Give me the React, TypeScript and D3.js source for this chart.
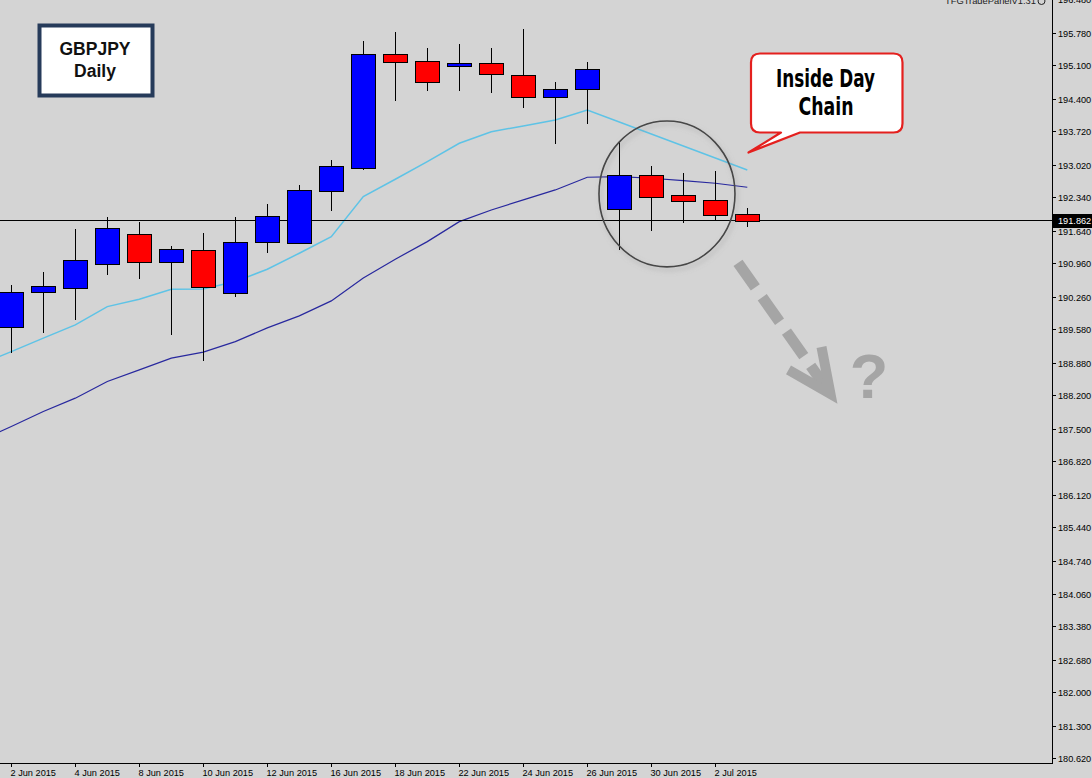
import React from 'react';
import * as d3 from 'd3';

// ---- Data ----
const candleDates = [
  '2 Jun 2015', '3 Jun 2015', '4 Jun 2015', '5 Jun 2015', '8 Jun 2015', '9 Jun 2015',
  '10 Jun 2015', '11 Jun 2015', '12 Jun 2015', '15 Jun 2015', '16 Jun 2015', '17 Jun 2015',
  '18 Jun 2015', '19 Jun 2015', '22 Jun 2015', '23 Jun 2015', '24 Jun 2015', '25 Jun 2015',
  '26 Jun 2015', '29 Jun 2015', '30 Jun 2015', '1 Jul 2015', '2 Jul 2015', '3 Jul 2015',
];
const opens = [189.635, 190.378, 190.449, 190.95, 191.577, 191.004, 191.249, 190.357, 191.422, 191.401, 192.487, 192.955, 195.342, 195.189, 195.097, 195.147, 194.897, 194.437, 194.604, 192.099, 192.809, 192.397, 192.293, 191.994];
const highs = [190.518, 190.783, 191.681, 191.944, 191.84, 191.332, 191.61, 191.944, 192.203, 192.606, 193.128, 195.619, 195.795, 195.461, 195.55, 195.461, 195.864, 194.751, 195.181, 193.498, 193.009, 192.863, 192.905, 192.12];
const lows = [189.092, 189.522, 189.787, 190.727, 190.637, 189.474, 188.937, 190.274, 191.18, 191.39, 192.063, 192.919, 194.36, 194.569, 194.569, 194.521, 194.22, 193.456, 193.874, 191.249, 191.652, 191.819, 191.875, 191.735];
const closes = [190.366, 190.497, 191.04, 191.708, 191.004, 191.263, 190.47, 191.416, 191.959, 192.502, 193.003, 195.342, 195.181, 194.751, 195.147, 194.918, 194.45, 194.604, 195.022, 192.809, 192.362, 192.278, 191.986, 191.862];

// moving averages, first value belongs to the candle before 2 Jun (index -1)
const maFast = [188.85, 189.125, 189.405, 189.683, 190.065, 190.219, 190.428, 190.434, 190.587, 190.846, 191.18, 191.527, 192.362, 192.725, 193.093, 193.477, 193.719, 193.838, 193.963, 194.172, 193.922, 193.671, 193.42, 193.17, 192.919];
const maSlow = [187.26, 187.559, 187.872, 188.152, 188.499, 188.743, 188.987, 189.113, 189.334, 189.62, 189.871, 190.184, 190.664, 191.055, 191.422, 191.84, 192.084, 192.293, 192.502, 192.767, 192.779, 192.746, 192.696, 192.642, 192.558];

const priceTicks = [196.48, 195.78, 195.1, 194.4, 193.72, 193.02, 192.34, 191.64, 190.96, 190.26, 189.58, 188.88, 188.2, 187.5, 186.82, 186.12, 185.44, 184.74, 184.06, 183.38, 182.68, 182.0, 181.3, 180.62];
const dateTickIndex = [-2, 0, 2, 4, 6, 8, 10, 12, 14, 16, 18, 20, 22];
const dateTickLabels = ['29 May 2015', '2 Jun 2015', '4 Jun 2015', '8 Jun 2015', '10 Jun 2015', '12 Jun 2015', '16 Jun 2015', '18 Jun 2015', '22 Jun 2015', '24 Jun 2015', '26 Jun 2015', '30 Jun 2015', '2 Jul 2015'];

const currentPrice = 191.862;

// annotation anchors in (candle index, price) space
const circleCenter = { i: 20.49, p: 192.418 };
const circleRadius = { i: 2.125, p: 1.524 };
const arrowStart = { i: 22.71, p: 190.977 };
const arrowTip = { i: 25.6, p: 188.24 };

// ---- Layout ----
const W = 1092;
const H = 778;
const plotRight = 1052;
const plotBottom = 763;

const BG = '#d4d4d4';
const BULL = '#0000ff';
const BEAR = '#ff0000';
const FAST = '#5ec3e6';
const SLOW = '#28289e';
const ANN = '#a5a5a5';
const AXIS_FONT = '"Liberation Sans", Arial, sans-serif';

export default function App() {
  const x = d3.scaleLinear().domain([0, 23]).range([11.3, 747.3]);
  const y = d3.scaleLinear().domain([180.53, 196.47]).range([plotBottom, 0]);

  const maLine = d3
    .line<number>()
    .x((_, k) => x(k - 1))
    .y((v) => y(v));

  const px = (v: number) => Math.floor(v) + 0.5;

  const cx = x(circleCenter.i);
  const cy = y(circleCenter.p);
  const rx = x(circleCenter.i + circleRadius.i) - cx;
  const ry = cy - y(circleCenter.p + circleRadius.p);

  const sx = x(arrowStart.i);
  const sy = y(arrowStart.p);
  const tx = x(arrowTip.i);
  const ty = y(arrowTip.p);

  // callout shape
  const cb = { l: 751, t: 53.5, r: 902.5, b: 132.5, rad: 9 };
  const tailL = 781;
  const tailR = 800;
  const tip = { x: 748.5, y: 152.5 };
  const calloutPath = [
    `M${cb.l + cb.rad},${cb.t}`,
    `L${cb.r - cb.rad},${cb.t}`,
    `Q${cb.r},${cb.t} ${cb.r},${cb.t + cb.rad}`,
    `L${cb.r},${cb.b - cb.rad}`,
    `Q${cb.r},${cb.b} ${cb.r - cb.rad},${cb.b}`,
    `L${tailR},${cb.b}`,
    `L${tip.x},${tip.y}`,
    `L${tailL},${cb.b}`,
    `L${cb.l + cb.rad},${cb.b}`,
    `Q${cb.l},${cb.b} ${cb.l},${cb.b - cb.rad}`,
    `L${cb.l},${cb.t + cb.rad}`,
    `Q${cb.l},${cb.t} ${cb.l + cb.rad},${cb.t}`,
    'Z',
  ].join(' ');

  return (
    <svg
      width={W}
      height={H}
      style={{ position: 'absolute', left: 0, top: 0, display: 'block' }}
      xmlns="http://www.w3.org/2000/svg"
    >
      <defs>
        <clipPath id="plot">
          <rect x={0} y={0} width={plotRight} height={plotBottom} />
        </clipPath>
        <filter id="shadow" x="-20%" y="-20%" width="150%" height="150%">
          <feDropShadow dx="2" dy="3" stdDeviation="2.5" floodColor="#8a8a8a" floodOpacity="0.55" />
        </filter>
      </defs>
      <rect x={0} y={0} width={W} height={H} fill={BG} />

      <g clipPath="url(#plot)">
        {/* moving averages */}
        <path d={maLine(maSlow) || ''} fill="none" stroke={SLOW} strokeWidth={1.2} />
        <path d={maLine(maFast) || ''} fill="none" stroke={FAST} strokeWidth={1.5} />

        {/* current price line */}
        <line x1={0} x2={plotRight} y1={px(y(currentPrice))} y2={px(y(currentPrice))} stroke="#000" strokeWidth={1} />

        {/* candles */}
        {opens.map((o, i) => {
          const c = closes[i];
          const bull = c >= o;
          const xc = px(x(i));
          const top = Math.round(y(Math.max(o, c)));
          const bot = Math.round(y(Math.min(o, c)));
          return (
            <g key={candleDates[i]} shapeRendering="crispEdges">
              <line x1={xc} x2={xc} y1={y(highs[i])} y2={y(lows[i])} stroke="#000" strokeWidth={1} />
              <rect
                x={xc - 12}
                y={top + 0.5}
                width={24}
                height={Math.max(bot - top, 2)}
                fill={bull ? BULL : BEAR}
                stroke="#000"
                strokeWidth={1}
              />
            </g>
          );
        })}

        {/* circle annotation */}
        <ellipse cx={cx} cy={cy} rx={rx} ry={ry} fill="none" stroke="#464646" strokeWidth={1.6} filter="url(#shadow)" />

        {/* dashed arrow */}
        <line x1={sx} y1={sy} x2={tx} y2={ty} stroke={ANN} strokeWidth={11} strokeDasharray="30 12" />
        <polyline
          points={`${tx - 9},${ty - 47} ${tx},${ty} ${tx - 42},${ty - 24}`}
          fill="none"
          stroke={ANN}
          strokeWidth={10}
          strokeLinejoin="miter"
        />
        <text x={869} y={398} textAnchor="middle" fontFamily={AXIS_FONT} fontWeight="bold" fontSize={63} fill={ANN}>
          ?
        </text>

        {/* callout */}
        <path d={calloutPath} fill="#fff" stroke="#e4201e" strokeWidth={2.2} strokeLinejoin="round" />
        <text
          x={825.5}
          y={87}
          textAnchor="middle"
          fontFamily='"DejaVu Sans Condensed", "DejaVu Sans", sans-serif'
          fontWeight="bold"
          fontSize={24}
          textLength={99}
          lengthAdjust="spacingAndGlyphs"
          fill="#000"
        >
          Inside Day
        </text>
        <text
          x={826}
          y={115}
          textAnchor="middle"
          fontFamily='"DejaVu Sans Condensed", "DejaVu Sans", sans-serif'
          fontWeight="bold"
          fontSize={24}
          textLength={55}
          lengthAdjust="spacingAndGlyphs"
          fill="#000"
        >
          Chain
        </text>

        {/* symbol label box */}
        <rect x={39.5} y={25.5} width={113} height={70} fill="#fff" stroke="#263b5a" strokeWidth={4} />
        <text x={95} y={55.3} textAnchor="middle" fontFamily={AXIS_FONT} fontWeight="bold" fontSize={17.5} fill="#111">
          GBPJPY
        </text>
        <text x={95} y={77.3} textAnchor="middle" fontFamily={AXIS_FONT} fontWeight="bold" fontSize={17.5} fill="#111">
          Daily
        </text>
      </g>

      {/* axes */}
      <line x1={plotRight + 0.5} x2={plotRight + 0.5} y1={0} y2={plotBottom} stroke="#000" strokeWidth={1} />
      <line x1={0} x2={plotRight + 1} y1={plotBottom + 0.5} y2={plotBottom + 0.5} stroke="#000" strokeWidth={1} />

      {priceTicks.map((p) => {
        const yy = px(y(p));
        return (
          <g key={p}>
            <line x1={plotRight} x2={plotRight + 4} y1={yy} y2={yy} stroke="#000" strokeWidth={1} />
            <text x={plotRight + 6} y={yy + 3.5} fontFamily={AXIS_FONT} fontSize={9.2} fill="#000">
              {p.toFixed(3)}
            </text>
          </g>
        );
      })}

      {/* current price tag */}
      <rect x={plotRight + 1} y={Math.round(y(currentPrice)) - 7} width={W - plotRight - 1} height={14} fill="#000" />
      <text x={plotRight + 6} y={y(currentPrice) + 3.5} fontFamily={AXIS_FONT} fontSize={9.2} fill="#fff">
        {currentPrice.toFixed(3)}
      </text>

      {dateTickIndex.map((idx, k) => {
        const xx = px(x(idx));
        return (
          <g key={dateTickLabels[k]}>
            <line x1={xx} x2={xx} y1={plotBottom} y2={plotBottom + 4} stroke="#000" strokeWidth={1} />
            <text x={xx - 1} y={776} fontFamily={AXIS_FONT} fontSize={9.2} fill="#000">
              {dateTickLabels[k]}
            </text>
          </g>
        );
      })}

      {/* panel caption at top right */}
      <text x={945} y={3.5} fontFamily={AXIS_FONT} fontSize={8.5} fill="#222" textLength={91} lengthAdjust="spacingAndGlyphs">
        TFGTradePanelV1.31
      </text>
      <circle cx={1041.5} cy={1} r={3.5} fill="none" stroke="#222" strokeWidth={1} />
    </svg>
  );
}
